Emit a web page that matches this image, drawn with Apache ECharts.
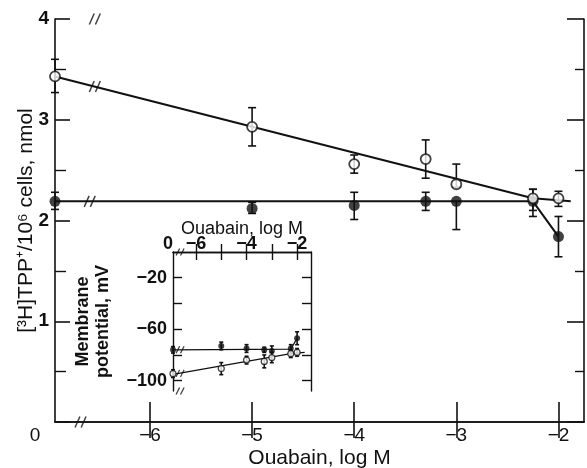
<!DOCTYPE html>
<html>
<head>
<meta charset="utf-8">
<script src="https://cdn.jsdelivr.net/npm/echarts@6/dist/echarts.min.js"></script>
<style>
html,body{margin:0;padding:0;background:#fff;}
#chart{width:587px;height:468px;}
</style>
</head>
<body>
<div id="chart"></div>
<script>
// ---------- Main panel data ----------
const MAIN_X_MIN = -6.93;           // control (no ouabain) plotted at the left axis
const MAIN_X_MAX = -1.75;
const mainX = [MAIN_X_MIN, -5, -4, -3.3, -3, -2.25, -2];
const mainXTicks = [-6, -5, -4, -3, -2];
const mainXLabels = [MAIN_X_MIN, -6, -5, -4, -3, -2];

const openTPP      = [3.43, 2.93, 2.56, 2.61, 2.36, 2.22, 2.22];
const openTPPLo    = [0.16, 0.19, 0.09, 0.19, 0.03, 0.12, 0.08];
const openTPPHi    = [0.17, 0.19, 0.09, 0.19, 0.20, 0.09, 0.07];
const filledTPP    = [2.19, 2.12, 2.15, 2.19, 2.19, 2.19, 1.84];
const filledTPPLo  = [0.08, 0.05, 0.14, 0.09, 0.28, 0.15, 0.20];
const filledTPPHi  = [0.09, 0.06, 0.13, 0.09, 0.00, 0.12, 0.20];

const openFitLine   = [[MAIN_X_MIN, 3.43], [-2.25, 2.22], [-1.88, 2.19]];
const filledFitLine = [[MAIN_X_MIN, 2.19], [-2.25, 2.19], [-2, 1.84]];
const mainBreaks    = [[-6.54, 4], [-6.68, 0], [-6.54, 3.33], [-6.59, 2.19]];

// ---------- Inset data ----------
const INSET_X_MIN = -6.91;
const INSET_X_MAX = -1.45;
const insetX = [INSET_X_MIN, -5, -4, -3.3, -3, -2.25, -2];
const insetXTicks = [-6, -5, -4, -3, -2];
const insetXLabels = [INSET_X_MIN, -6, -4, -2];
const insetYTicks = [-100, -80, -60, -40, -20];
const insetYLabels = [-100, -60, -20];

const openMP     = [-94.5, -90.6, -84, -85, -82, -79, -78];
const openMPErr  = [3, 4.7, 3, 5, 4, 3, 3];
const filledMP   = [-76, -73, -75, -76, -77, -75, -67];
const filledMPErr= [2.5, 3, 3, 2, 4, 3, 5];

const openMPLine   = [[INSET_X_MIN, -95], [-2.25, -79], [-1.7, -78]];
const filledMPLine = [[INSET_X_MIN, -76], [-2.25, -75.5], [-2, -67]];
const insetBreaks  = [[-6.63, 0], [-6.63, -108], [-6.63, -94.3], [-6.63, -76]];

// ---------- helpers ----------
const FONT = "'Liberation Sans', Arial, Helvetica, sans-serif";
const INK = '#111';
const minus = v => '\u2212' + Math.abs(v);
const slashPath = 'path://M0,10 L4,0 M5,10 L9,0';

function pts(xs, ys) { return xs.map((x, i) => [x, ys[i]]); }
function errData(xs, ys, lo, hi) { return xs.map((x, i) => [x, ys[i] - lo[i], ys[i] + hi[i]]); }

function errSeries(data, xi, yi, cap, z) {
  return {
    type: 'custom', xAxisIndex: xi, yAxisIndex: yi, clip: false, z: z,
    encode: { x: 0, y: [1, 2] },
    data: data,
    renderItem: function (params, api) {
      const x = api.value(0);
      const a = api.coord([x, api.value(1)]);
      const b = api.coord([x, api.value(2)]);
      const st = { stroke: INK, lineWidth: 1.6 };
      return {
        type: 'group',
        children: [
          { type: 'line', shape: { x1: a[0], y1: a[1], x2: b[0], y2: b[1] }, style: st },
          { type: 'line', shape: { x1: a[0] - cap, y1: a[1], x2: a[0] + cap, y2: a[1] }, style: st },
          { type: 'line', shape: { x1: b[0] - cap, y1: b[1], x2: b[0] + cap, y2: b[1] }, style: st }
        ]
      };
    }
  };
}

const axisLine = { lineStyle: { color: INK, width: 1.6 } };

const option = {
  backgroundColor: '#fff',
  animation: false,
  textStyle: { fontFamily: FONT, color: INK },
  grid: [
    { left: 55, right: 3, top: 19, bottom: 46, outerBoundsMode: 'none', containLabel: false },
    { left: 173, right: 276, top: 252, bottom: 77, outerBoundsMode: 'none', containLabel: false,
      show: true, backgroundColor: '#fff', borderWidth: 0, z: 5 }
  ],
  xAxis: [
    {
      gridIndex: 0, type: 'value', position: 'bottom', min: MAIN_X_MIN, max: MAIN_X_MAX,
      axisLine: axisLine, splitLine: { show: false },
      axisTick: { inside: true, length: 20, customValues: mainXTicks, lineStyle: { color: INK, width: 1.6 } },
      axisLabel: {
        customValues: mainXLabels, color: INK, fontSize: 19, margin: 4, fontFamily: FONT,
        formatter: v => Math.abs(v - MAIN_X_MIN) < 1e-6 ? '{z|0}' : minus(v),
        rich: { z: { fontSize: 19, fontFamily: FONT, color: INK, padding: [0, 40, 0, 0] } }
      },
      name: 'Ouabain, log M', nameLocation: 'middle', nameGap: 26, nameMoveOverlap: false,
      nameTextStyle: { fontSize: 21, color: INK, fontFamily: FONT }
    },
    {
      gridIndex: 0, type: 'value', position: 'top', min: MAIN_X_MIN, max: MAIN_X_MAX,
      axisLine: axisLine, splitLine: { show: false },
      axisTick: { inside: true, length: 16, customValues: mainXTicks, lineStyle: { color: INK, width: 1.6 } },
      axisLabel: { show: false }
    },
    {
      gridIndex: 1, type: 'value', position: 'top', min: INSET_X_MIN, max: INSET_X_MAX, z: 6,
      axisLine: { lineStyle: { color: INK, width: 1.4 } }, splitLine: { show: false },
      axisTick: { inside: true, length: 8, customValues: insetXTicks, lineStyle: { color: INK, width: 1.4 } },
      axisLabel: {
        customValues: insetXLabels, color: INK, fontSize: 18, fontWeight: 'bold', margin: -1, fontFamily: FONT,
        formatter: v => Math.abs(v - INSET_X_MIN) < 1e-6 ? '{z|0}' : minus(v),
        rich: { z: { fontSize: 18, fontWeight: 'bold', fontFamily: FONT, color: INK, padding: [0, 10, 0, 0] } }
      },
      name: 'Ouabain, log M', nameLocation: 'middle', nameGap: 14, nameMoveOverlap: false,
      nameTextStyle: { fontSize: 18, color: INK, fontFamily: FONT }
    },
    {
      gridIndex: 1, type: 'value', position: 'bottom', min: INSET_X_MIN, max: INSET_X_MAX, z: 6,
      axisLine: { lineStyle: { color: INK, width: 1.4 } }, splitLine: { show: false },
      axisTick: { inside: true, length: 8, customValues: insetXTicks, lineStyle: { color: INK, width: 1.4 } },
      axisLabel: { show: false }
    }
  ],
  yAxis: [
    {
      gridIndex: 0, type: 'value', position: 'left', min: 0, max: 4, interval: 1,
      axisLine: axisLine, splitLine: { show: false },
      axisTick: { inside: true, length: 15, lineStyle: { color: INK, width: 1.6 } },
      minorTick: { show: true, splitNumber: 2, length: 11, lineStyle: { color: INK, width: 1.4 } },
      axisLabel: { color: INK, fontSize: 19, margin: 6, fontFamily: FONT, fontWeight: 'bold',
        formatter: v => v === 0 ? '' : String(v) },
      name: '[\u00B3H]TPP\u207A/10\u2076 cells, nmol', nameLocation: 'middle', nameGap: 18, nameMoveOverlap: false,
      nameTextStyle: { fontSize: 21, color: INK, fontFamily: FONT }
    },
    {
      gridIndex: 0, type: 'value', position: 'right', min: 0, max: 4, interval: 1,
      axisLine: axisLine, splitLine: { show: false },
      axisTick: { inside: true, length: 17, lineStyle: { color: INK, width: 1.6 } },
      minorTick: { show: true, splitNumber: 2, length: 9, lineStyle: { color: INK, width: 1.4 } },
      axisLabel: { show: false }
    },
    {
      gridIndex: 1, type: 'value', position: 'left', min: -108, max: 0, z: 6,
      axisLine: { lineStyle: { color: INK, width: 1.4 } }, splitLine: { show: false },
      axisTick: { inside: true, length: 9, customValues: insetYTicks, lineStyle: { color: INK, width: 1.4 } },
      axisLabel: { customValues: insetYLabels, color: INK, fontSize: 18, fontWeight: 'bold', margin: 6,
        fontFamily: FONT, formatter: v => minus(v) },
      name: 'Membrane\npotential, mV', nameLocation: 'middle', nameGap: 60, nameMoveOverlap: false,
      nameTextStyle: { fontSize: 18, fontWeight: 'bold', lineHeight: 20, color: INK, fontFamily: FONT }
    },
    {
      gridIndex: 1, type: 'value', position: 'right', min: -108, max: 0, z: 6,
      axisLine: { lineStyle: { color: INK, width: 1.4 } }, splitLine: { show: false },
      axisTick: { inside: true, length: 9, customValues: insetYTicks, lineStyle: { color: INK, width: 1.4 } },
      axisLabel: { show: false }
    }
  ],
  series: [
    // main panel
    { type: 'line', xAxisIndex: 0, yAxisIndex: 0, data: openFitLine, symbol: 'none',
      lineStyle: { color: INK, width: 2 }, z: 2 },
    { type: 'line', xAxisIndex: 0, yAxisIndex: 0, data: filledFitLine, symbol: 'none',
      lineStyle: { color: INK, width: 2 }, z: 2 },
    errSeries(errData(mainX, openTPP, openTPPLo, openTPPHi), 0, 0, 4, 3),
    errSeries(errData(mainX, filledTPP, filledTPPLo, filledTPPHi), 0, 0, 4, 3),
    { type: 'scatter', xAxisIndex: 0, yAxisIndex: 0, data: pts(mainX, filledTPP), symbol: 'circle',
      symbolSize: 11, itemStyle: { color: INK }, z: 4, clip: false },
    { type: 'scatter', xAxisIndex: 0, yAxisIndex: 0, data: pts(mainX, openTPP), symbol: 'circle',
      symbolSize: 10, itemStyle: { color: '#fff', borderColor: INK, borderWidth: 1.8 }, z: 5, clip: false },
    { type: 'scatter', xAxisIndex: 0, yAxisIndex: 0, data: mainBreaks, symbol: slashPath,
      symbolSize: [11, 11], itemStyle: { color: 'rgba(0,0,0,0)', borderColor: INK, borderWidth: 1.5 },
      z: 6, clip: false, silent: true },
    // inset
    { type: 'line', xAxisIndex: 2, yAxisIndex: 2, data: openMPLine, symbol: 'none',
      lineStyle: { color: INK, width: 1.3 }, z: 7 },
    { type: 'line', xAxisIndex: 2, yAxisIndex: 2, data: filledMPLine, symbol: 'none',
      lineStyle: { color: INK, width: 1.3 }, z: 7 },
    errSeries(errData(insetX, openMP, openMPErr, openMPErr), 2, 2, 2, 7),
    errSeries(errData(insetX, filledMP, filledMPErr, filledMPErr), 2, 2, 2, 7),
    { type: 'scatter', xAxisIndex: 2, yAxisIndex: 2, data: pts(insetX, filledMP), symbol: 'circle',
      symbolSize: 6, itemStyle: { color: INK }, z: 8, clip: false },
    { type: 'scatter', xAxisIndex: 2, yAxisIndex: 2, data: pts(insetX, openMP), symbol: 'circle',
      symbolSize: 6, itemStyle: { color: '#fff', borderColor: INK, borderWidth: 1.2 }, z: 8, clip: false },
    { type: 'scatter', xAxisIndex: 2, yAxisIndex: 2, data: insetBreaks, symbol: slashPath,
      symbolSize: [8, 7], itemStyle: { color: 'rgba(0,0,0,0)', borderColor: INK, borderWidth: 1.2 },
      z: 9, clip: false, silent: true }
  ]
};

const chart = echarts.init(document.getElementById('chart'), null, { renderer: 'canvas' });
chart.setOption(option);
</script>
</body>
</html>
